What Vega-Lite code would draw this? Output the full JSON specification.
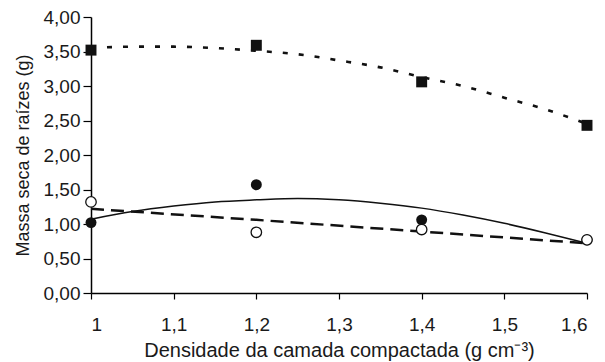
{
  "$schema": "https://vega.github.io/schema/vega-lite/v6.json",
  "width": 496,
  "height": 276,
  "autosize": "none",
  "padding": {"left": 91, "top": 17, "right": 18, "bottom": 69},
  "background": "white",
  "config": {
    "view": {"stroke": null},
    "font": "Liberation Sans",
    "axis": {"grid": false, "domainColor": "black", "tickColor": "black", "labelColor": "#1a1a1a", "titleColor": "#1a1a1a", "labelFont": "Liberation Sans", "titleFont": "Liberation Sans", "titleFontWeight": "normal", "domainWidth": 1.5, "tickWidth": 1.2}
  },
  "datasets": {
    "pts": [
      {"x": 1.0, "y": 3.52, "serie": "sq"},
      {"x": 1.2, "y": 3.59, "serie": "sq"},
      {"x": 1.4, "y": 3.06, "serie": "sq"},
      {"x": 1.6, "y": 2.43, "serie": "sq"},
      {"x": 1.0, "y": 1.02, "serie": "cf"},
      {"x": 1.2, "y": 1.57, "serie": "cf"},
      {"x": 1.4, "y": 1.06, "serie": "cf"},
      {"x": 1.6, "y": 0.77, "serie": "cf"},
      {"x": 1.0, "y": 1.32, "serie": "oc"},
      {"x": 1.2, "y": 0.88, "serie": "oc"},
      {"x": 1.4, "y": 0.92, "serie": "oc"},
      {"x": 1.6, "y": 0.77, "serie": "oc"}
    ],
    "fitSq": [
      {"x": 1.0, "y": 3.55}, {"x": 1.05, "y": 3.57}, {"x": 1.1, "y": 3.57}, {"x": 1.15, "y": 3.55},
      {"x": 1.2, "y": 3.51}, {"x": 1.25, "y": 3.46}, {"x": 1.3, "y": 3.37}, {"x": 1.35, "y": 3.27},
      {"x": 1.4, "y": 3.13}, {"x": 1.45, "y": 3.0}, {"x": 1.5, "y": 2.83}, {"x": 1.55, "y": 2.66},
      {"x": 1.6, "y": 2.45}
    ],
    "fitCf": [
      {"x": 1.0, "y": 1.07}, {"x": 1.05, "y": 1.18}, {"x": 1.1, "y": 1.26}, {"x": 1.15, "y": 1.32},
      {"x": 1.2, "y": 1.35}, {"x": 1.25, "y": 1.37}, {"x": 1.3, "y": 1.35}, {"x": 1.35, "y": 1.3},
      {"x": 1.4, "y": 1.23}, {"x": 1.45, "y": 1.13}, {"x": 1.5, "y": 1.01}, {"x": 1.55, "y": 0.87},
      {"x": 1.6, "y": 0.72}
    ],
    "fitOc": [
      {"x": 1.0, "y": 1.22}, {"x": 1.2, "y": 1.06}, {"x": 1.4, "y": 0.89}, {"x": 1.6, "y": 0.72}
    ]
  },
  "encoding": {
    "x": {
      "field": "x", "type": "quantitative",
      "scale": {"domain": [1, 1.6], "nice": false, "zero": false},
      "axis": {"values": [1, 1.1, 1.2, 1.3, 1.4, 1.5, 1.6], "labelExpr": "replace(format(datum.value, '.1~f'), '.', ',')", "labelFontSize": 19, "labelPadding": 16, "tickSize": 6, "title": "Densidade da camada compactada (g cm⁻³)", "titleFontSize": 20, "titlePadding": 6}
    },
    "y": {
      "field": "y", "type": "quantitative",
      "scale": {"domain": [0, 4], "nice": false},
      "axis": {"values": [0, 0.5, 1, 1.5, 2, 2.5, 3, 3.5, 4], "labelExpr": "replace(format(datum.value, '.2f'), '.', ',')", "labelFontSize": 19, "labelPadding": 3, "tickSize": 8, "title": "Massa seca de raízes (g)", "titleFontSize": 18, "titlePadding": 11}
    }
  },
  "layer": [
    {"data": {"name": "fitSq"}, "mark": {"type": "line", "color": "#111", "strokeWidth": 2.6, "strokeDash": [5, 11], "interpolate": "monotone"}},
    {"data": {"name": "fitCf"}, "mark": {"type": "line", "color": "#111", "strokeWidth": 1.5, "interpolate": "monotone"}},
    {"data": {"name": "fitOc"}, "mark": {"type": "line", "color": "#111", "strokeWidth": 2.5, "strokeDash": [13, 7]}},
    {"data": {"name": "pts"}, "transform": [{"filter": "datum.serie == 'sq'"}], "mark": {"type": "square", "size": 120, "filled": true, "color": "#111", "opacity": 1}},
    {"data": {"name": "pts"}, "transform": [{"filter": "datum.serie == 'cf'"}], "mark": {"type": "circle", "size": 120, "color": "#111", "opacity": 1}},
    {"data": {"name": "pts"}, "transform": [{"filter": "datum.serie == 'oc'"}], "mark": {"type": "point", "shape": "circle", "size": 110, "filled": true, "fill": "white", "stroke": "#111", "strokeWidth": 1.3, "opacity": 1}}
  ]
}
